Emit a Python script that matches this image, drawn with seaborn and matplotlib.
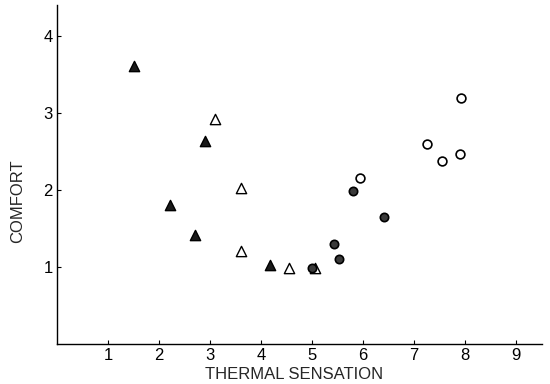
import pandas as pd
import matplotlib.pyplot as plt
import seaborn as sns

# --- Data ---
filled_tri_x = [1.50, 2.21, 2.71, 2.91, 4.18]
filled_tri_y = [3.61, 1.81, 1.42, 2.64, 1.03]
open_tri_x = [3.09, 3.61, 3.61, 4.55, 5.06]
open_tri_y = [2.92, 2.02, 1.21, 0.99, 0.99]
filled_circ_x = [5.00, 5.43, 5.52, 5.80, 6.41]
filled_circ_y = [0.99, 1.30, 1.10, 1.99, 1.65]
open_circ_x = [5.94, 7.25, 7.54, 7.89, 7.91]
open_circ_y = [2.16, 2.60, 2.38, 2.46, 3.19]

groups = {
    "filled_tri": (filled_tri_x, filled_tri_y),
    "open_tri": (open_tri_x, open_tri_y),
    "filled_circ": (filled_circ_x, filled_circ_y),
    "open_circ": (open_circ_x, open_circ_y),
}
rows = []
for name, (xs, ys) in groups.items():
    for x, y in zip(xs, ys):
        rows.append({"group": name, "sensation": x, "comfort": y})
df = pd.DataFrame(rows)

# --- Styles per group ---
styles = {
    "filled_tri": dict(marker="^", color="#1a1a1a", s=55, linewidth=1.0),
    "open_tri": dict(marker="^", color="white", s=55, linewidth=1.0),
    "filled_circ": dict(marker="o", color="#3a3a3a", s=36, linewidth=1.2),
    "open_circ": dict(marker="o", color="white", s=40, linewidth=1.2),
}

sns.set_style("ticks")
plt.rcParams["font.family"] = ["Liberation Sans", "DejaVu Sans"]

fig = plt.figure(figsize=(5.5, 3.84), dpi=100)
ax = fig.add_axes([0.1036, 0.104, 0.8814, 0.883])

for name, st in styles.items():
    sns.scatterplot(data=df[df["group"] == name], x="sensation", y="comfort",
                    edgecolor="black", ax=ax, legend=False, zorder=3, **st)

ax.set_xlim(0, 9.5)
ax.set_ylim(0, 4.4)
ax.set_xticks(range(1, 10))
ax.set_yticks([1, 2, 3, 4])
ax.tick_params(direction="in", length=3, width=0.8, labelsize=12, colors="black", pad=3)
ax.set_xlabel("THERMAL SENSATION", fontsize=12)
ax.set_ylabel("COMFORT", fontsize=12)
ax.xaxis.set_label_coords(0.489, -0.068)
ax.yaxis.set_label_coords(-0.066, 0.422)
sns.despine(ax=ax)
for sp in ["left", "bottom"]:
    ax.spines[sp].set_linewidth(1.0)
    ax.spines[sp].set_color("black")

fig.savefig("out.png", dpi=100)
